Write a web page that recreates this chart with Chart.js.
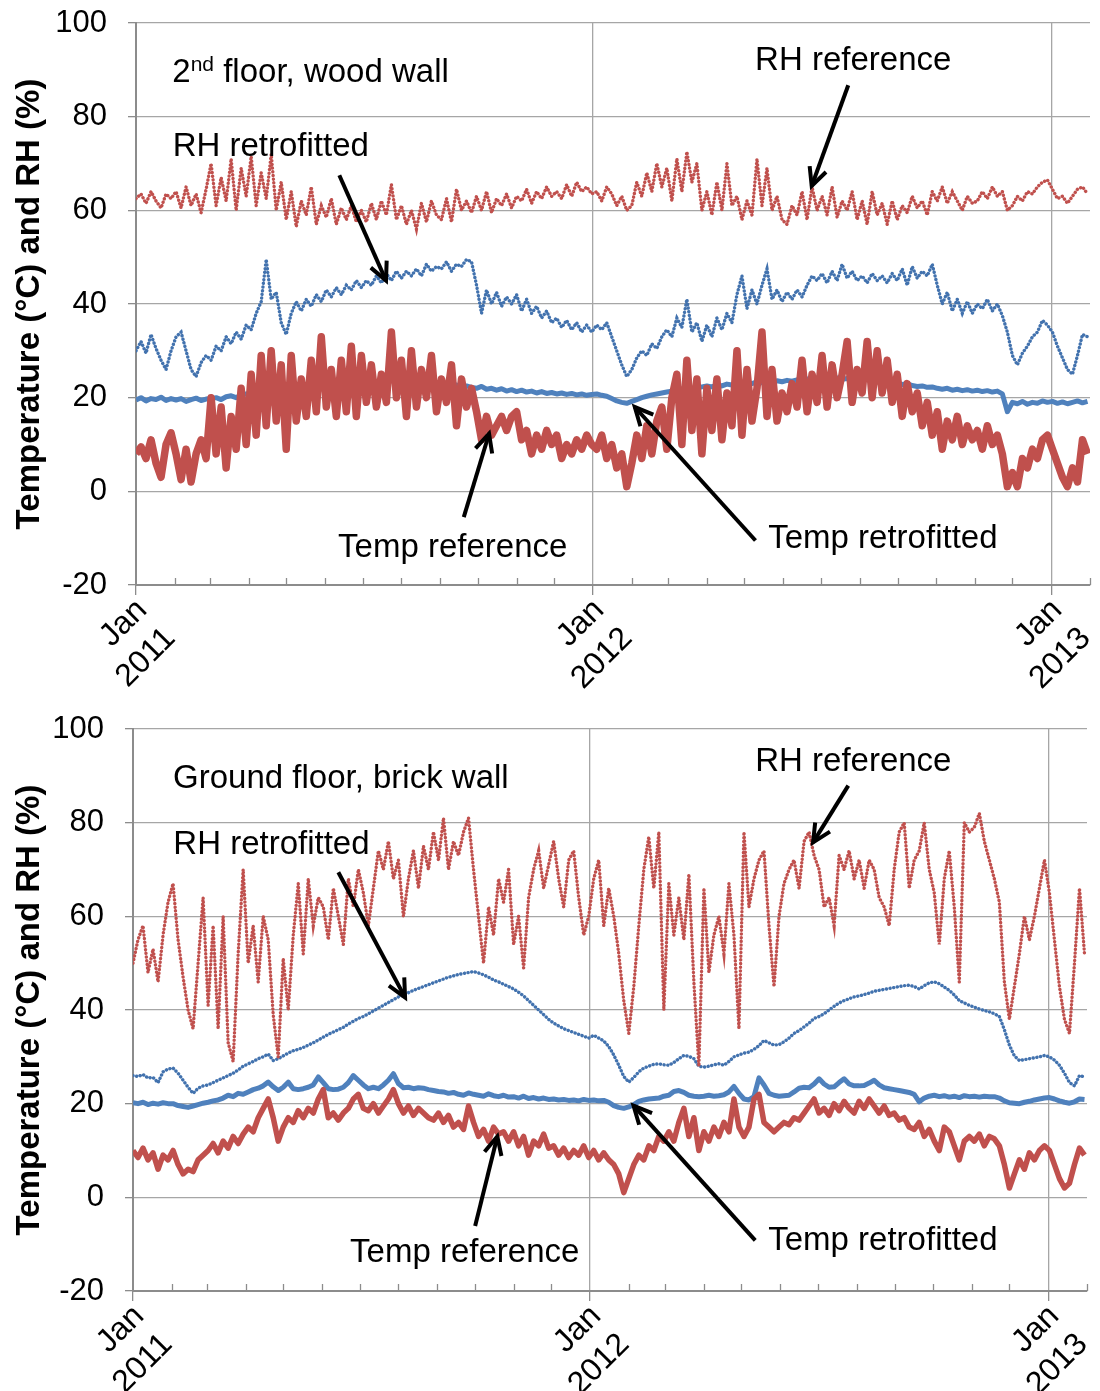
<!DOCTYPE html>
<html>
<head>
<meta charset="utf-8">
<script src="https://cdn.jsdelivr.net/npm/chart.js@4.4.1/dist/chart.umd.min.js"></script>
<style>
  html, body { margin: 0; padding: 0; background: #fff; }
  canvas { display: block; }
</style>
</head>
<body>
<canvas id="woodChart" width="1100" height="695"></canvas>
<canvas id="brickChart" width="1100" height="696"></canvas>
<script>
// one reading every 4 days, starting 1 Jan 2011
const DAY_STEP = 4;
const yearStarts = [0, 365, 731];
const yearLabels = [["Jan", "2011"], ["Jan", "2012"], ["Jan", "2013"]];
const monthStarts = [31, 59, 90, 120, 151, 181, 212, 243, 273, 304, 334,
  396, 425, 456, 486, 517, 547, 578, 609, 639, 670, 700, 762];

// ---- 2nd floor, wood wall ----
const woodTempRef = [
  8, 9.5, 7, 11, 6, 3, 10, 12.5,
  8, 2.5, 9, 2, 8, 11, 7,
  20, 8, 18, 5, 16, 9, 22, 10,
  25, 12, 29, 14, 30, 15, 27,
  9, 29, 15, 24, 16, 28, 17, 33,
  18, 26, 16, 28, 17, 31, 16, 29,
  19, 27, 18, 25, 19, 34, 20,
  28, 16, 30, 18, 26, 20, 29, 17,
  24, 19, 27, 14, 24, 18, 22,
  17, 11, 16, 12, 14, 16, 13, 16,
  17, 11, 13, 8, 12, 9, 13, 10,
  12, 7, 10, 8, 11, 9, 12, 10,
  9, 12, 7, 10, 5, 8, 1,
  6, 12, 7, 14, 8, 15, 18, 9,
  20, 25, 10, 28, 13, 24, 8,
  22, 13, 24, 11, 21, 14, 30, 12,
  26, 15, 22, 34, 16, 26, 15,
  21, 17, 23, 18, 28, 17, 25, 19,
  29, 18, 27, 20, 25, 32, 19, 26,
  21, 32, 20, 30, 21, 28, 19,
  25, 16, 23, 17, 21, 14, 19, 12,
  17, 9, 15, 11, 16, 10, 14, 11,
  13, 9, 14, 10, 12, 8, 1,
  4, 1, 7, 5, 9, 7, 11, 12,
  9, 6, 3, 1, 5, 2, 11, 8
];
const woodTempRet = [
  19.5, 20, 19.3, 19.8, 19.6, 20.1, 19.4, 19.8,
  19.5, 19.8, 19.2, 19.6, 19.9, 19.4, 19.7,
  19.8, 20, 19.6, 20.2, 20.4, 20, 20.6, 20.8,
  21, 21.2, 21.5, 21.3, 21.8, 21.5, 21.2,
  21.5, 22, 21.8, 22.3, 22, 22.5, 22.2, 22.8,
  22.5, 23, 22.7, 23.2, 23, 23.4, 23.1, 23.5,
  23.2, 23.6, 23.3, 23.8, 23.4, 23.7, 23.5,
  23.3, 23.6, 23.2, 23.5, 23, 23.3, 22.8, 23,
  22.6, 22.9, 22.4, 22.7, 22.2, 22.5, 22.2,
  22, 22.4, 21.8, 22, 21.6, 21.9, 21.4, 21.7,
  21.3, 21.6, 21.2, 21.4, 21, 21.3, 20.9, 21.1,
  20.8, 21, 20.7, 20.9, 20.6, 20.8, 20.5, 20.7,
  20.8, 20.5, 20.3, 19.8, 19.3, 19, 18.8,
  19.2, 19.6, 20, 20.3, 20.6, 20.8, 21, 21.2,
  21.4, 21.6, 21.8, 22, 21.8, 22.1, 22.3,
  22.5, 22.3, 22.7, 22.5, 22.9, 22.7, 23, 22.8,
  23.2, 23, 23.4, 23.2, 23.5, 23.3, 23.6,
  23.4, 23.7, 23.5, 23.8, 23.6, 24, 23.7, 24,
  23.8, 24.1, 23.9, 24.2, 23.9, 24.1, 23.8, 24,
  23.7, 23.9, 23.5, 23.7, 23.3, 23.5, 23.1,
  23.2, 22.8, 23, 22.6, 22.4, 22.5, 22.2, 22.3,
  22, 21.8, 22, 21.6, 21.8, 21.5, 21.7, 21.4,
  21.6, 21.3, 21.5, 21.2, 21.4, 20.8, 17,
  19, 18.7, 19.2, 18.6, 19, 18.8, 19.3, 19,
  19.2, 18.8, 19.1, 18.7, 19, 19.3, 18.9, 19.2
];
const woodRhRef = [
  62.5, 63.5, 61.5, 64, 62, 60.5, 63.5, 62.5,
  64, 60.5, 65, 61, 63.5, 59.5, 64.5,
  70, 61, 67, 62, 71, 60, 69, 63,
  71.5, 61, 68, 62.5, 72, 60, 66,
  58, 64, 56.5, 62, 59, 65, 57, 61,
  58.5, 62.5, 57, 60.5, 58, 61, 57.5, 60,
  57.5, 61.5, 58, 62, 59, 65.5, 58,
  61, 57, 60, 56, 61.5, 57.5, 62, 59,
  58, 62.5, 57.5, 64.5, 60, 62, 59.5,
  63, 60, 64, 59.5, 62.5, 61, 63.5, 60.5,
  63, 62, 64.5, 61.5, 64, 62.5, 65, 63,
  64, 62.5, 65.5, 63, 66, 64, 65, 63.5,
  64, 62, 65, 63.5, 61, 63, 60,
  61, 66, 63, 68, 64, 70, 65, 69,
  62, 71, 64, 72.5, 66, 70, 60,
  64, 59, 66, 60, 70, 61, 63, 58,
  62, 59, 71, 61, 69, 60, 63,
  58, 57, 61, 59, 64, 58, 65, 60,
  63, 59, 65, 58.5, 62, 60, 64, 58,
  62, 57, 64, 59, 61.5, 57, 62,
  58, 61, 59.5, 63, 60.5, 62, 59, 64,
  62, 65, 61.5, 64, 62, 60, 63, 61.5,
  62, 64, 62.5, 65, 63, 64, 60,
  61, 63, 62, 64, 63.5, 65, 66, 66.5,
  64.5, 62.5, 63, 61.5, 63, 64.5, 65, 63.5
];
const woodRhRet = [
  30, 32, 29.5, 33.5, 30.5, 28, 26, 30,
  33, 34, 30, 26, 24.5, 27.5, 29,
  28, 31, 30, 33, 31.5, 34, 32.5, 35.5,
  34.5, 38, 40.5, 49.5, 41, 42.5, 36,
  33.5, 38, 40.5, 38.5, 41, 39.5, 42, 40.5,
  43, 41.5, 43.5, 42, 44, 43, 45, 43.5,
  45, 44, 46, 44.5, 46.5, 45, 47,
  45.5, 47, 46, 47.5, 46, 48.5, 47, 48,
  47.5, 49, 47, 48.5, 48, 49.5, 49,
  44, 38, 43, 40, 42.5, 39.5, 41.5, 40,
  42, 38.5, 41, 38, 39.5, 37, 38.5, 36,
  37, 35, 36.5, 34.5, 36, 34, 35.5, 34,
  35.5, 34.5, 36, 33, 30, 27, 24.5,
  26, 28.5, 30, 29, 31.5, 30.5, 33, 34.5,
  33, 37, 35, 41, 34, 36, 32,
  35.5, 33, 37, 34.5, 38, 36, 42, 46,
  39, 43, 40, 44, 47.5, 41, 43,
  40.5, 42.5, 41, 43, 41.5, 44, 46, 45,
  46.5, 44.5, 47, 45, 48.5, 45.5, 47, 45,
  46, 44.5, 46.5, 45, 46, 44.5, 46.5,
  45, 47.5, 44, 48, 45.5, 47, 46, 48.5,
  44, 40, 42.5, 38.5, 41, 38, 40.5, 38,
  40, 39, 41, 38.5, 40, 37.5, 34,
  29, 27, 29.5, 31, 33, 34, 36.5, 35.5,
  34, 31, 28.5, 26, 25, 29, 33.5, 33
];

// ---- Ground floor, brick wall ----
const brickTempRef = [
  10, 8.5, 10.5, 8, 9.5, 6, 9, 8,
  10, 7, 5, 6, 5.5, 8, 9,
  10, 11.5, 9.5, 12, 10.5, 13, 11.5, 13.5,
  15, 14, 17, 19, 21, 17, 12,
  15, 17, 16, 18.5, 17, 19, 18, 21,
  23, 17, 18, 16.5, 18, 19, 21, 22,
  19, 18.5, 20, 18, 19.5, 21, 23,
  20, 18, 19.5, 17.5, 19, 18, 17, 16.5,
  18, 16, 17.5, 15, 16, 14.5, 19.5,
  16, 13, 14.5, 12, 15, 13.5, 14, 12,
  14, 11, 13, 9, 12, 11, 13.5, 10.5,
  11, 9, 10.5, 8.5, 10, 9, 11, 8.5,
  10, 8, 9.5, 8, 7, 5, 1,
  4, 7, 9, 8, 11, 10, 13, 12,
  14, 12, 16, 19, 13, 17, 10,
  14, 12, 15, 13, 16, 14, 21, 15,
  13, 15, 21, 22, 16, 15, 14,
  15, 16, 15.5, 17, 16.5, 18, 19.5, 21,
  18, 19, 17.5, 20, 18.5, 20.5, 19, 18,
  20.5, 19, 21, 19.5, 18, 19.5, 17.5,
  18, 16.5, 17, 15, 14.5, 16, 13, 14.5,
  12, 10, 15, 14, 11, 8, 12, 13,
  12, 13.5, 11, 13, 12.5, 11, 7,
  2, 5, 8, 6, 9.5, 8, 10, 11,
  10, 7, 4, 2, 3, 7, 10.5, 9
];
const brickTempRet = [
  20.2, 20, 20.3, 19.8, 20.1, 19.9, 20.2, 20,
  20, 19.6, 19.4, 19.2, 19.5, 19.8, 20.1,
  20.3, 20.6, 20.8, 21.2, 21.8, 21.5, 22.2, 22,
  22.5, 23, 23.3, 23.8, 24.6, 23.6, 22.8,
  23.5, 24.6, 23.2, 23, 23.2, 23.5, 24, 25.7,
  24.5, 23.2, 23, 23.1, 23.5, 24.5, 26, 25,
  24, 23.2, 23.5, 23.2, 24, 25, 26.4,
  24.3, 23.4, 23.5, 23.2, 23.4, 23.3, 23, 22.8,
  22.6, 22.5, 22.2, 22.4, 22, 21.8, 22.3,
  22, 21.8, 21.6, 22.1, 21.7, 21.5, 21.8, 21.4,
  21.5, 21.2, 21.6, 21.1, 21.3, 21, 21.2, 20.9,
  21, 20.8, 20.9, 20.7, 20.8, 20.6, 20.9, 20.7,
  20.8, 20.6, 20.7, 20.3, 19.6, 19.2, 19,
  19.3, 19.8, 20.5, 20.8, 21, 21.1, 21.2, 21.6,
  21.8, 22.6, 22.8, 22.4, 21.8, 21.6, 21.5,
  21.6, 21.8, 21.6, 21.7, 21.9, 22.5, 23.7, 22.2,
  21, 20.8, 21.5, 25.5, 24, 22.2, 21.8,
  21.6, 21.7, 21.8, 22.5, 23.3, 23.5, 23.4, 24.2,
  25.3, 24.2, 23.5, 23.6, 24.5, 25.3, 24.2, 23.8,
  23.8, 23.9, 24.4, 25, 24, 23.4, 23.2,
  23, 22.8, 22.6, 22.4, 22, 20.4, 21.2, 21.6,
  21.8, 21.5, 21.7, 21.4, 21.6, 21.3, 21.7, 21.5,
  21.6, 21.4, 21.6, 21.5, 21.5, 21.2, 20.6,
  20.2, 20.1, 20, 20.3, 20.5, 20.8, 21, 21.2,
  21.3, 21, 20.6, 20.3, 20.1, 20.4, 21, 20.9
];
const brickRhRef = [
  50, 55, 58, 48, 53, 46, 56, 63,
  67, 55, 47, 40, 36, 50, 64,
  41, 58, 36, 60, 33, 29, 52, 70,
  50, 58, 46, 60, 55, 39, 30,
  51, 40, 56, 67, 52, 68, 58, 64,
  62, 55, 66, 60, 54, 68, 62, 70,
  65, 58, 66, 74, 70, 76, 68,
  72, 60, 68, 74, 66, 75, 70, 78,
  72, 81, 70, 76, 73, 78, 81,
  70, 60, 50, 62, 56, 68, 63, 70,
  54, 60, 49, 64, 70, 74, 66, 71,
  76, 68, 62, 72, 74, 64, 56, 60,
  68, 72, 58, 66, 60, 52, 42,
  35, 45, 58, 70, 77, 66, 78, 40,
  67, 56, 64, 55, 69, 46, 28,
  66, 48, 56, 60, 52, 67, 56, 36,
  78, 62, 68, 72, 74, 58, 45,
  60, 67, 70, 72, 66, 76, 78, 73,
  70, 62, 64, 58, 73, 70, 74, 68,
  72, 66, 72, 70, 64, 62, 58,
  70, 78, 80, 66, 72, 74, 80, 70,
  65, 54, 68, 74, 62, 46, 80, 78,
  79, 82, 76, 72, 68, 63, 46,
  38, 45, 52, 60, 55, 60, 66, 72,
  65, 55, 45, 38, 35, 50, 66, 52
];
const brickRhRet = [
  26, 25.8, 26.2, 25.5, 25.6, 24.5, 26.8, 27.4,
  27.6, 26.5, 25, 23.5, 22.2, 23.3, 23.8,
  24, 24.5, 25, 25.5, 26, 26.5, 27.2, 28,
  28.5, 29, 29.6, 30, 30.6, 29.2, 29.6,
  30.2, 30.8, 31.3, 31.6, 32, 32.5, 33, 33.6,
  34.2, 34.8, 35.3, 35.8, 36.3, 37, 37.6, 38.2,
  38.6, 39.2, 39.8, 40.4, 41, 41.6, 42.2,
  42.8, 43.2, 43.7, 44.2, 44.6, 45, 45.4, 45.8,
  46.2, 46.6, 47, 47.3, 47.6, 47.8, 48,
  48.2, 47.9, 47.5, 47, 46.4, 46, 45.5, 45,
  44.5, 43.8, 43, 42, 41, 40, 39, 38,
  37.2, 36.6, 36, 35.6, 35.2, 34.8, 34.4, 34,
  34.6, 34, 33.4, 32.2, 30.4, 28.2, 25.8,
  24.6, 25.6, 26.8, 27.6, 28, 28.4, 28.5, 28.3,
  28.2, 28.8, 29.6, 30.3, 30.1, 29.6, 28,
  27.8, 28, 28.3, 28.5, 28.2, 29, 30, 30.4,
  30.8, 31, 31.6, 32.4, 33.5, 33, 32.5,
  32.6, 33.2, 34, 35, 35.6, 36.4, 37.2, 38.2,
  38.6, 39.2, 40, 40.8, 41.5, 42, 42.4, 42.8,
  43, 43.3, 43.6, 44, 44.2, 44.4, 44.6,
  44.8, 45, 45.2, 45.3, 45, 44.5, 45.2, 45.8,
  46, 45.6, 44.9, 44.2, 43.2, 42, 41.5, 41,
  40.6, 40.2, 39.9, 39.6, 39.2, 38.6, 35.8,
  32.5, 30.2, 29.2, 29.4, 29.6, 29.8, 30, 30.3,
  30, 29.3, 28.2, 26.5, 24.5, 23.8, 26, 25.7
];

const RED = "#C0504D";
const BLUE = "#4F81BD";
const BLUE_DOT = "#4272AE";
const GRID = "#A6A6A6";
const AXIS = "#8C8C8C";
const FONT = "'Liberation Sans', Arial, sans-serif";

const woodNotes = {
  labels: [
    { parts: [["2", false], ["nd", true], [" floor, wood wall", false]], day: 29, value: 87.3 },
    { parts: [["RH reference", false]], day: 494.5, value: 89.9 },
    { parts: [["RH retrofitted", false]], day: 29.3, value: 71.5 },
    { parts: [["Temp reference", false]], day: 161.4, value: -14 },
    { parts: [["Temp retrofitted", false]], day: 505, value: -12.2 }
  ],
  arrows: [
    { from: [568.9, 86.7], to: [539.7, 65.2] },
    { from: [162.4, 67.5], to: [199.7, 45] },
    { from: [261.8, -5.5], to: [282, 12.3] },
    { from: [494.8, -10.5], to: [398.4, 18] }
  ]
};

const brickNotes = {
  labels: [
    { parts: [["Ground floor, brick wall", false]], day: 32, value: 87.3 },
    { parts: [["RH reference", false]], day: 497, value: 91.1 },
    { parts: [["RH retrofitted", false]], day: 32.2, value: 73.3 },
    { parts: [["Temp reference", false]], day: 173.4, value: -13.8 },
    { parts: [["Temp retrofitted", false]], day: 507.4, value: -11.3 }
  ],
  arrows: [
    { from: [571.3, 87.9], to: [543.2, 75.8] },
    { from: [164, 69.4], to: [217.3, 42.7] },
    { from: [273.3, -6.1], to: [291, 13] },
    { from: [497, -9.2], to: [399.8, 19.6] }
  ]
};

function toPoints(values) {
  return values.map((value, index) => ({ x: index * DAY_STEP, y: value }));
}

function tempLine(values, colour, width = 5) {
  return {
    data: toPoints(values),
    borderColor: colour,
    borderWidth: width,
    borderJoinStyle: "round",
    pointRadius: 0
  };
}

function rhDots(values, colour) {
  return {
    data: toPoints(values),
    borderColor: colour,
    borderWidth: 3.4,
    borderDash: [0.1, 3.6],
    borderCapStyle: "round",
    pointRadius: 0
  };
}

const minorTicks = {
  id: "minorTicks",
  afterDraw(chart) {
    const { ctx, scales: { x } } = chart;
    ctx.save();
    ctx.strokeStyle = AXIS;
    ctx.lineWidth = 1.3;
    monthStarts.forEach(day => {
      if (day > x.max) return;
      const px = Math.round(x.getPixelForValue(day)) + 0.5;
      ctx.beginPath();
      ctx.moveTo(px, x.top);
      ctx.lineTo(px, x.top - 7);
      ctx.stroke();
    });
    ctx.restore();
  }
};

function notesPlugin(notes) {
  return {
    id: "notes",
    afterDraw(chart) {
      const { ctx, scales: { x, y } } = chart;
      ctx.save();
      ctx.fillStyle = "#000";
      ctx.strokeStyle = "#000";
      ctx.textAlign = "left";
      ctx.textBaseline = "alphabetic";

      notes.labels.forEach(label => {
        let px = x.getPixelForValue(label.day);
        const py = y.getPixelForValue(label.value);
        label.parts.forEach(([text, sup]) => {
          ctx.font = sup ? `21px ${FONT}` : `33px ${FONT}`;
          ctx.fillText(text, px, sup ? py - 11 : py);
          px += ctx.measureText(text).width;
        });
      });

      ctx.lineWidth = 4;
      ctx.lineJoin = "miter";
      notes.arrows.forEach(arrow => {
        const x1 = x.getPixelForValue(arrow.from[0]);
        const y1 = y.getPixelForValue(arrow.from[1]);
        const x2 = x.getPixelForValue(arrow.to[0]);
        const y2 = y.getPixelForValue(arrow.to[1]);
        const angle = Math.atan2(y2 - y1, x2 - x1);
        const head = 20;
        ctx.beginPath();
        ctx.moveTo(x1, y1);
        ctx.lineTo(x2, y2);
        ctx.stroke();
        ctx.beginPath();
        ctx.moveTo(x2 - head * Math.cos(angle - 0.45), y2 - head * Math.sin(angle - 0.45));
        ctx.lineTo(x2, y2);
        ctx.lineTo(x2 - head * Math.cos(angle + 0.45), y2 - head * Math.sin(angle + 0.45));
        ctx.stroke();
      });
      ctx.restore();
    }
  };
}

function panelOptions(padding, axisWidth, axisHeight) {
  return {
    responsive: false,
    animation: false,
    layout: { padding },
    plugins: { legend: { display: false }, tooltip: { enabled: false } },
    scales: {
      x: {
        type: "linear",
        min: 0,
        max: 762,
        afterBuildTicks: scale => {
          scale.ticks = yearStarts.map(value => ({ value }));
        },
        afterFit: scale => {
          scale.height = axisHeight;
          scale.paddingLeft = 0;
          scale.paddingRight = 0;
        },
        ticks: {
          autoSkip: false,
          minRotation: 45,
          maxRotation: 45,
          padding: -4,
          labelOffset: 6,
          color: "#000",
          font: { family: FONT, size: 32, lineHeight: 1.25 },
          callback: value => yearLabels[yearStarts.indexOf(value)]
        },
        grid: { color: GRID, lineWidth: 1.3, tickLength: 10, tickColor: AXIS },
        border: { color: AXIS, width: 2 }
      },
      y: {
        min: -20,
        max: 100,
        afterFit: scale => {
          scale.width = axisWidth;
          scale.paddingTop = 0;
          scale.paddingBottom = 0;
        },
        ticks: {
          stepSize: 20,
          padding: 21,
          color: "#000",
          font: { family: FONT, size: 31 }
        },
        grid: { color: GRID, lineWidth: 1.3, tickLength: 8, tickColor: AXIS },
        border: { color: AXIS, width: 2 },
        title: {
          display: true,
          text: "Temperature (°C) and RH (%)",
          color: "#000",
          font: { family: FONT, size: 33, weight: "bold" },
          padding: { top: 10, bottom: 0 }
        }
      }
    }
  };
}

new Chart(document.getElementById("woodChart"), {
  type: "line",
  data: {
    datasets: [
      tempLine(woodTempRef, RED, 7.5),
      tempLine(woodTempRet, BLUE),
      rhDots(woodRhRef, RED),
      rhDots(woodRhRet, BLUE_DOT)
    ]
  },
  options: panelOptions({ top: 23, right: 10, left: 0, bottom: 0 }, 136, 110),
  plugins: [minorTicks, notesPlugin(woodNotes)]
});

new Chart(document.getElementById("brickChart"), {
  type: "line",
  data: {
    datasets: [
      tempLine(brickTempRef, RED, 5.5),
      tempLine(brickTempRet, BLUE),
      rhDots(brickRhRef, RED),
      rhDots(brickRhRet, BLUE_DOT)
    ]
  },
  options: panelOptions({ top: 34, right: 13, left: 0, bottom: 0 }, 133, 100),
  plugins: [minorTicks, notesPlugin(brickNotes)]
});
</script>
</body>
</html>
